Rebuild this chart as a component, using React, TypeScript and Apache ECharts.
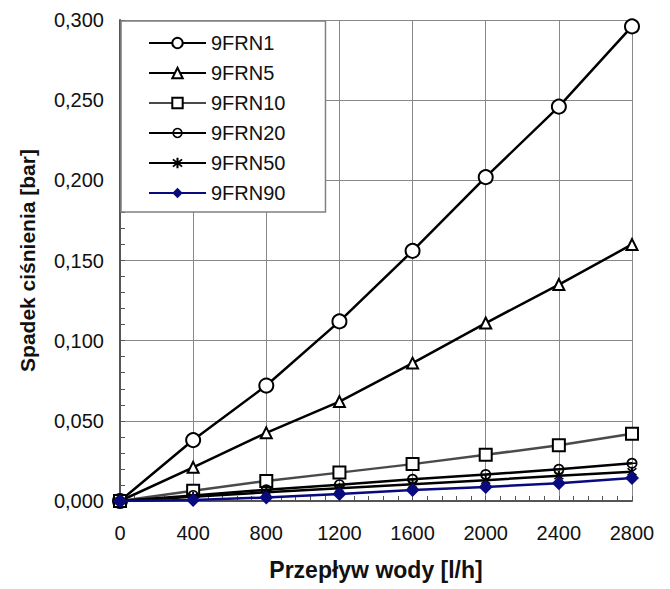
import React, { useEffect, useRef } from "react";
import * as echarts from "echarts";

const flows = [0, 400, 800, 1200, 1600, 2000, 2400, 2800];
const xTicks = [0, 400, 800, 1200, 1600, 2000, 2400, 2800];
const seriesNames = ["9FRN1", "9FRN5", "9FRN10", "9FRN20", "9FRN50", "9FRN90"];
const frn1 = [0, 0.038, 0.072, 0.112, 0.156, 0.202, 0.246, 0.296];
const frn5 = [0, 0.021, 0.0425, 0.062, 0.086, 0.111, 0.135, 0.16];
const frn10 = [0, 0.0064, 0.0125, 0.0177, 0.023, 0.0288, 0.0348, 0.042];
const frn20 = [0, 0.0035, 0.007, 0.0102, 0.0135, 0.0165, 0.0198, 0.0235];
const frn50 = [0, 0.0027, 0.0054, 0.008, 0.0105, 0.013, 0.0157, 0.0183];
const frn90 = [0, 0.0007, 0.0022, 0.0044, 0.0068, 0.0088, 0.011, 0.0144];

const FONT = "Liberation Sans";

const asteriskPath =
  "path://M1,2 L2,1 L5,4 L8,1 L9,2 L6,5 L9,8 L8,9 L5,6 L2,9 L1,8 L4,5 Z M4.2,0 L5.8,0 L5.8,10 L4.2,10 Z";
const circleBarPath =
  "path://M5,0 A5,5 0 1 1 4.99,0 Z M5,1.5 A3.5,3.5 0 1 0 5.01,1.5 Z M1.5,4.3 L8.5,4.3 L8.5,5.7 L1.5,5.7 Z";

export default function App() {
  const ref = useRef<HTMLDivElement>(null);
  useEffect(() => {
    if (!ref.current) return;
    const chart = echarts.init(ref.current, undefined, { renderer: "svg" });
    const mk = (
      name: string,
      data: number[],
      lineColor: string,
      symbol: string,
      size: number,
      fill: string,
      border: string,
      borderWidth: number,
      z: number
    ) => ({
      name,
      type: "line",
      data: flows.map((f, i) => [f, data[i]]),
      symbol,
      symbolSize: size,
      showAllSymbol: true,
      z,
      lineStyle: { color: lineColor, width: 2.5 },
      itemStyle: { color: fill, borderColor: border, borderWidth, opacity: 1 },
    });
    const series = [
      mk(seriesNames[0], frn1, "#000", "circle", 14, "#fff", "#000", 2, 10),
      mk(seriesNames[1], frn5, "#000", "triangle", 11, "#fff", "#000", 2, 11),
      mk(seriesNames[2], frn10, "#4a4a4a", "rect", 12, "#fff", "#000", 2, 12),
      mk(seriesNames[3], frn20, "#000", circleBarPath, 11, "#000", "#000", 0, 13),
      mk(seriesNames[4], frn50, "#000", asteriskPath, 10, "#000", "#000", 0, 14),
      mk(seriesNames[5], frn90, "#0a0a80", "diamond", 14, "#0a0a80", "#0a0a80", 0, 15),
    ];
    chart.setOption({
      animation: false,
      backgroundColor: "#fff",
      textStyle: { fontFamily: FONT },
      grid: { left: 120, right: 38, top: 20, bottom: 88, containLabel: false },
      legend: {
        orient: "vertical",
        left: 121,
        top: 21,
        padding: [12, 40, 9, 27],
        itemGap: 10,
        itemWidth: 57,
        itemHeight: 13,
        backgroundColor: "#fff",
        borderColor: "#808080",
        borderWidth: 1.5,
        textStyle: { fontFamily: FONT, fontSize: 20, color: "#111" },
        data: seriesNames,
        z: 20,
      },
      xAxis: {
        type: "value",
        min: 0,
        max: 2800,
        interval: 400,
        name: "Przepływ wody [l/h]",
        nameLocation: "middle",
        nameGap: 57,
        nameTextStyle: { fontFamily: FONT, fontSize: 23, fontWeight: "bold", color: "#111" },
        axisLine: { show: true, lineStyle: { color: "#555", width: 2 } },
        axisTick: { show: true, inside: true, length: 5, lineStyle: { color: "#555" } },
        minorTick: { show: true, splitNumber: 5, length: 5, lineStyle: { color: "#555" } },
        splitLine: { show: true, lineStyle: { color: "#888", width: 1 } },
        axisLabel: {
          fontFamily: FONT,
          fontSize: 20,
          color: "#111",
          margin: 22,
          formatter: (v: number) => (xTicks.includes(v) ? String(v) : ""),
        },
      },
      yAxis: {
        type: "value",
        min: 0,
        max: 0.3,
        interval: 0.05,
        name: "Spadek ciśnienia [bar]",
        nameLocation: "middle",
        nameGap: 82,
        nameTextStyle: { fontFamily: FONT, fontSize: 21, fontWeight: "bold", color: "#111" },
        axisLine: { show: true, lineStyle: { color: "#555", width: 2 } },
        axisTick: { show: true, inside: true, length: 5, lineStyle: { color: "#555" } },
        minorTick: { show: true, splitNumber: 5, length: 5, lineStyle: { color: "#555" } },
        splitLine: { show: true, lineStyle: { color: "#888", width: 1 } },
        axisLabel: {
          fontFamily: FONT,
          fontSize: 20,
          color: "#111",
          margin: 16,
          formatter: (v: number) => v.toFixed(3).replace(".", ","),
        },
      },
      series,
    });
    return () => chart.dispose();
  }, []);
  return <div ref={ref} style={{ width: 670, height: 589, marginLeft: -8, marginTop: -8 }} />;
}
